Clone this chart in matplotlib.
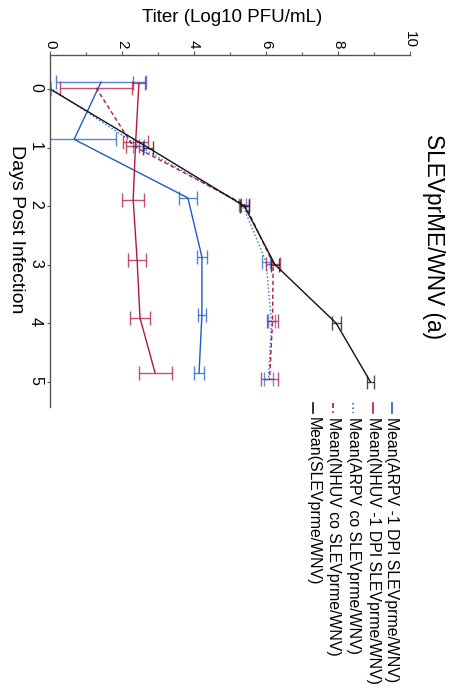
import matplotlib.pyplot as plt
from matplotlib.lines import Line2D

plt.rcParams['font.family'] = ['Liberation Sans', 'DejaVu Sans']

# --- titer data (Log10 PFU/mL) per group, days post infection ---
days_arpv_dpi = [-0.12, 0.86, 1.86, 2.87, 3.86, 4.85]
mean_arpv_dpi = [1.42, 0.67, 3.83, 4.22, 4.22, 4.14]
err_arpv_dpi = [1.25, 1.17, 0.25, 0.15, 0.10, 0.15]

days_nhuv_dpi = [-0.10, 0.90, 1.89, 2.92, 3.91, 4.85]
mean_nhuv_dpi = [2.47, 2.38, 2.31, 2.42, 2.50, 2.92]
err_nhuv_dpi = [0.17, 0.35, 0.30, 0.24, 0.28, 0.46]

days_arpv_co = [-0.02, 0.97, 1.98, 2.95, 3.97, 4.95]
mean_arpv_co = [0.00, 2.45, 5.35, 6.00, 6.15, 6.07]
err_arpv_co = [0.00, 0.15, 0.10, 0.12, 0.10, 0.12]

days_nhuv_co = [-0.02, 0.97, 1.98, 2.98, 3.97, 4.95]
mean_nhuv_co = [1.28, 2.30, 5.42, 6.20, 6.18, 6.10]
err_nhuv_co = [1.00, 0.18, 0.12, 0.20, 0.15, 0.23]

days_slev = [0, 1, 2, 3, 4, 5]
mean_slev = [0.00, 2.72, 5.40, 6.25, 7.95, 8.90]
err_slev = [0.00, 0.15, 0.12, 0.12, 0.12, 0.10]

legend_labels = ['Mean(ARPV -1 DPI SLEVprme/WNV)',
                 'Mean(NHUV -1 DPI SLEVprme/WNV)',
                 'Mean(ARPV co SLEVprme/WNV)',
                 'Mean(NHUV co SLEVprme/WNV)',
                 'Mean(SLEVprme/WNV)']

BLUE = '#1f5bc4'
BLUE_DOT = '#2f6fd2'
RED = '#b3173f'
BLACK = '#111111'

W, H = 463, 692
fig = plt.figure(figsize=(W / 100, H / 100), dpi=100)

def fx(px):
    return px / W

def fy(py):
    return 1 - py / H

# page is turned on its side: titer runs left->right, days run top->bottom
ax = fig.add_axes([fx(50), fy(407), 360 / W, 352 / H])

series = [
    (days_arpv_dpi, mean_arpv_dpi, err_arpv_dpi, BLUE, '-'),
    (days_nhuv_dpi, mean_nhuv_dpi, err_nhuv_dpi, RED, '-'),
    (days_arpv_co, mean_arpv_co, err_arpv_co, BLUE_DOT, ':'),
    (days_nhuv_co, mean_nhuv_co, err_nhuv_co, RED, (0, (3, 2))),
    (days_slev, mean_slev, err_slev, BLACK, '-'),
]

for d, m, e, col, ls in series:
    ax.errorbar(m, d, xerr=e, color=col, ecolor=col, elinewidth=1.0,
                capsize=5, capthick=1.0, linestyle='none', alpha=0.75)
    ax.plot(m, d, color=col, linestyle=ls, lw=1.0)

ax.set_xlim(0, 10)
ax.set_ylim(5.43, -0.58)
ax.set_xticks([0, 2, 4, 6, 8, 10])
ax.set_xticks([1, 3, 5, 7, 9], minor=True)
ax.set_yticks([0, 1, 2, 3, 4, 5])

for s in ['right', 'bottom']:
    ax.spines[s].set_visible(False)
for s in ['top', 'left']:
    ax.spines[s].set_color('#555555')
    ax.spines[s].set_linewidth(1.0)

ax.xaxis.set_ticks_position('top')
ax.xaxis.set_label_position('top')
ax.tick_params(axis='x', which='major', length=3, width=0.8, color='#555555',
               labelsize=11, labelrotation=-90, pad=2)
ax.tick_params(axis='x', which='minor', length=2, width=0.8, color='#555555')
ax.tick_params(axis='y', which='major', length=2, width=0.8, color='#555555',
               labelsize=11.5, labelrotation=-90, pad=3)

# axis titles and heading
fig.text(fx(232), fy(18), 'Titer (Log10 PFU/mL)', fontsize=13.5,
         ha='center', va='center')
fig.text(fx(16), fy(229), 'Days Post Infection', fontsize=14,
         rotation=-90, ha='center', va='center')
fig.text(fx(434), fy(237), 'SLEVprME/WNV (a)', fontsize=16.3,
         rotation=-90, ha='center', va='center')

# legend, one column per entry reading top to bottom
leg_x = [392, 373, 353, 333, 313]
leg_styles = [(BLUE, '-'), (RED, '-'), (BLUE_DOT, ':'), (RED, (0, (3, 2))), (BLACK, '-')]
for x, lab, (col, ls) in zip(leg_x, legend_labels, leg_styles):
    fig.add_artist(Line2D([fx(x), fx(x)], [fy(403), fy(413)], color=col,
                          linestyle=ls, lw=1.2, transform=fig.transFigure))
    fig.text(fx(x), fy(417), lab, fontsize=11.4, rotation=-90,
             rotation_mode='anchor', ha='left', va='center')

fig.savefig('out.png', dpi=100)
